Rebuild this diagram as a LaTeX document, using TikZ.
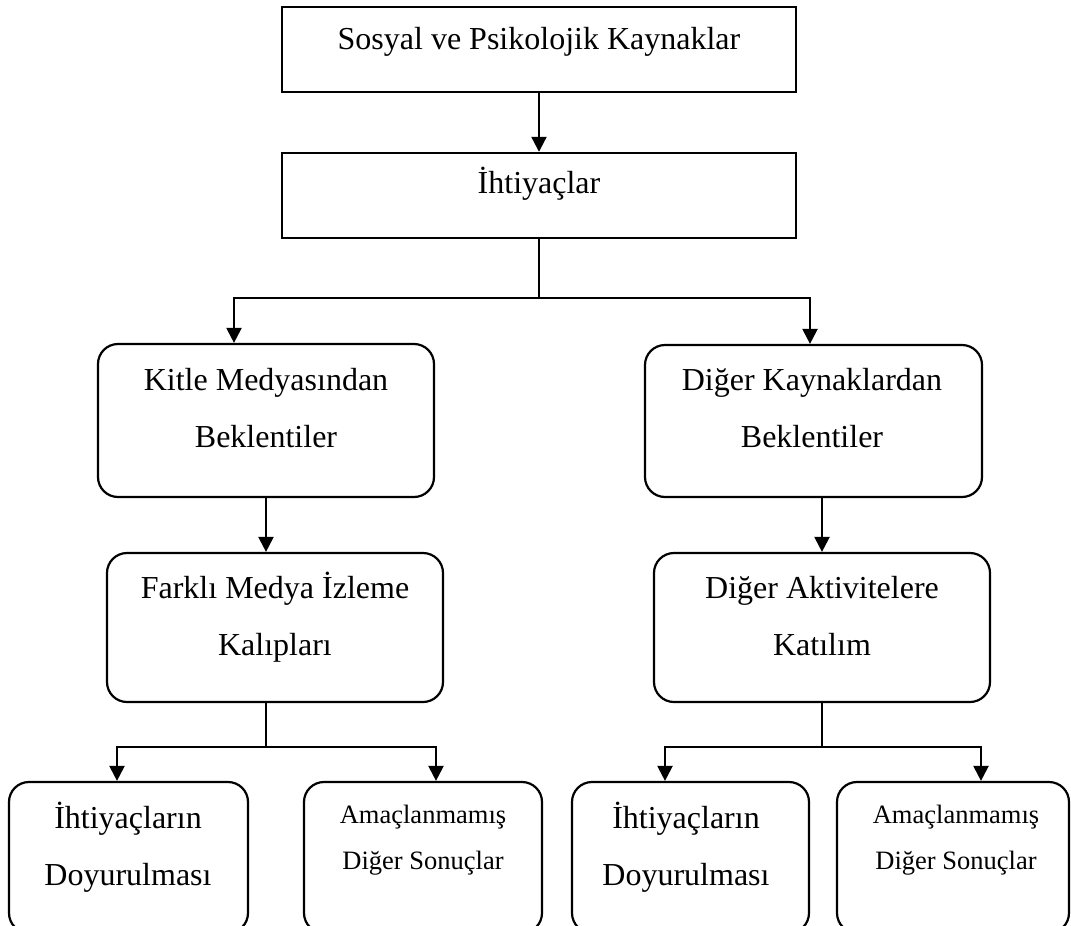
\documentclass[tikz,border=0pt]{standalone}
\usepackage{fontspec}
\setmainfont{Liberation Serif}
\usetikzlibrary{arrows.meta}

\begin{document}
\begin{tikzpicture}[x=1pt, y=-1pt,
		plainbox/.style={draw, line width=2.4pt, minimum width=514pt, minimum height=85pt, inner sep=0pt},
		roundbox/.style={draw, line width=2.2pt, rounded corners=20pt, inner sep=0pt},
		bigtext/.style={font=\fontsize{32}{57}\selectfont, align=center, inner sep=0pt, anchor=base},
		smalltext/.style={font=\fontsize{26.5}{46}\selectfont, align=center, inner sep=0pt, anchor=base},
		arr/.style={line width=2.2pt, -{Triangle[length=15pt, width=15pt]}},
		link/.style={line width=2.2pt}]
		%%%%% START %%%%%
		
		\useasboundingbox (0,0) rectangle (1071,926);
		\clip (0,0) rectangle (1071,926);
		
		\node[plainbox] (kaynak) at (539,49.5) {};
		\node[plainbox] (ihtiyac) at (539,195.5) {};
		\node[bigtext] (kaynakT) at (539,49) {Sosyal ve Psikolojik Kaynaklar};
		\node[bigtext] (ihtiyacT) at (539,193) {İhtiyaçlar};
		
		\node[roundbox, minimum width=336pt, minimum height=153pt] (kitle) at (266,420.5) {};
		\node[roundbox, minimum width=337pt, minimum height=152pt] (diger) at (813.5,421) {};
		\node[bigtext] (kitleT) at (266,447) {Kitle Medyasından\\Beklentiler};
		\node[bigtext] (digerT) at (812,447) {Diğer Kaynaklardan\\Beklentiler};
		
		\node[roundbox, minimum width=336pt, minimum height=149pt] (farkli) at (275,627.5) {};
		\node[roundbox, minimum width=336pt, minimum height=149pt] (aktivite) at (822,627.5) {};
		\node[bigtext] (farkliT) at (275,655) {Farklı Medya İzleme\\Kalıpları};
		\node[bigtext] (aktiviteT) at (822,655) {Diğer Aktivitelere\\Katılım};
		
		\node[roundbox, minimum width=239pt, minimum height=151pt] (doyum1) at (128.5,857.5) {};
		\node[roundbox, minimum width=238pt, minimum height=151pt] (sonuc1) at (423,857.5) {};
		\node[roundbox, minimum width=237pt, minimum height=151pt] (doyum2) at (690.5,857.5) {};
		\node[roundbox, minimum width=232pt, minimum height=151pt] (sonuc2) at (953,857.5) {};
		\node[bigtext] (doyum1T) at (128,885) {İhtiyaçların\\Doyurulması};
		\node[smalltext] (sonuc1T) at (423,869) {Amaçlanmamış\\Diğer Sonuçlar};
		\node[bigtext] (doyum2T) at (686,885) {İhtiyaçların\\Doyurulması};
		\node[smalltext] (sonuc2T) at (956,869) {Amaçlanmamış\\Diğer Sonuçlar};
		
		\draw[arr] (kaynak.south) -- (ihtiyac.north);
		
		\coordinate (catal1) at (539,298);
		\draw[link] (ihtiyac.south) -- (catal1);
		\draw[arr] (catal1) -| ([xshift=-32pt]kitle.north);
		\draw[arr] (catal1) -| ([xshift=-3.5pt]diger.north);
		
		\draw[arr] (kitle.south) -- (kitle.south |- farkli.north);
		\draw[arr] (aktivite.north |- diger.south) -- (aktivite.north);
		
		\coordinate (catal2) at (266,747);
		\draw[link] (farkli.south -| catal2) -- (catal2);
		\draw[arr] (catal2) -| ([xshift=-11.5pt]doyum1.north);
		\draw[arr] (catal2) -| ([xshift=13pt]sonuc1.north);
		
		\coordinate (catal3) at (822,747);
		\draw[link] (aktivite.south) -- (catal3);
		\draw[arr] (catal3) -| ([xshift=-25.5pt]doyum2.north);
		\draw[arr] (catal3) -| ([xshift=28pt]sonuc2.north);
		
		%%%%% END %%%%%
	\end{tikzpicture}
\end{document}
